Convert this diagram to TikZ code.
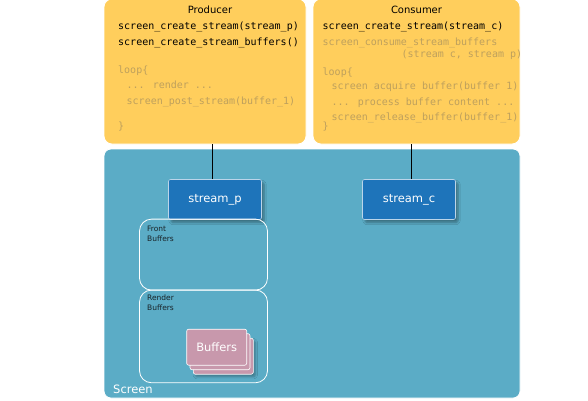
\documentclass[tikz,border=0pt]{standalone}
\usepackage{fontspec}
\setmainfont{DejaVu Sans}
\newfontfamily\codefont{DejaVu Sans Mono}
\usetikzlibrary{shadows.blur}
\definecolor{ylw}{RGB}{255,206,92}
\definecolor{teal}{RGB}{91,172,198}
\definecolor{sblue}{RGB}{30,116,186}
\definecolor{pinkb}{RGB}{200,152,172}
\definecolor{codegray}{RGB}{190,160,92}
\definecolor{lbl}{RGB}{25,35,40}
\begin{document}
\begin{tikzpicture}[x=1pt,y=1pt,
  panel/.style={draw=white, line width=0.8pt, fill=ylw, rounded corners=8pt, inner sep=0pt},
  screenbox/.style={draw=white, line width=0.8pt, fill=teal, rounded corners=7pt, inner sep=0pt},
  streambox/.style={draw=white!70!sblue, line width=0.6pt, fill=sblue, rounded corners=2pt, inner sep=0pt,
     minimum width=93pt, minimum height=40pt, text=white, font=\fontsize{11.5}{13}\selectfont,
     blur shadow={shadow xshift=2.5pt, shadow yshift=-3pt, shadow blur steps=6, shadow opacity=35}},
  bufgroup/.style={draw=white, line width=0.8pt, rounded corners=12pt, inner sep=0pt,
     minimum width=128pt},
  grplabel/.style={anchor=north west, align=left, text=lbl, inner sep=0pt,
     font=\fontsize{7.5}{9.5}\selectfont},
  bufbox/.style={draw=white, line width=0.6pt, fill=pinkb, rounded corners=2pt, inner sep=0pt,
     minimum width=60pt, minimum height=36pt, text=white, font=\fontsize{11.5}{13}\selectfont},
  title/.style={font=\fontsize{10}{12}\selectfont, text=black, inner sep=0pt},
  code/.style={anchor=west, inner sep=0pt, font=\codefont\fontsize{10}{12}\selectfont, text=black},
  dim/.style={code, text=codegray},
  conn/.style={draw=black, line width=0.8pt}
]
\useasboundingbox (0,0) rectangle (588,-400);

% Panels
\node[panel, minimum width=202pt, minimum height=145pt] (producer) at (205,-71.5) {};
\node[panel, minimum width=207pt, minimum height=145pt] (consumer) at (416.5,-71.5) {};
\node[screenbox, minimum width=416pt, minimum height=249pt] (screen) at (312,-273.5) {};

% Producer text
\node[title] (ptitle) at (210,-10) {Producer};
\node[code] (p1) at (118,-26.5) {screen\_create\_stream(stream\_p)};
\node[code] (p2) at (118,-43) {screen\_create\_stream\_buffers()};
\node[dim] (p3) at (118,-71) {loop\{};
\node[dim] (p4) at (126.5,-85) {... render ...};
\node[dim] (p5) at (126.5,-101.5) {screen\_post\_stream(buffer\_1)};
\node[dim] (p6) at (118,-126.5) {\}};

% Consumer text
\node[title] (ctitle) at (416.5,-10) {Consumer};
\node[code] (c1) at (322.5,-26.5) {screen\_create\_stream(stream\_c)};
\node[dim] (c2) at (322.5,-43) {screen\_consume\_stream\_buffers};
\node[dim] (c3) at (401.5,-54.5) {(stream c, stream p)};
\node[dim] (c4) at (322.5,-72.5) {loop\{};
\node[dim] (c5) at (331.5,-86.5) {screen acquire buffer(buffer 1)};
\node[dim] (c6) at (331.5,-102.5) {... process buffer content ...};
\node[dim] (c7) at (331.5,-117.5) {screen\_release\_buffer(buffer\_1)};
\node[dim] (c8) at (322.5,-127) {\}};

% Stream boxes
\node[streambox] (streamp) at (215,-199.5) {stream\_p};
\node[streambox] (streamc) at (409,-199.5) {stream\_c};

% Buffer groups
\node[bufgroup, minimum height=71pt] (front) at (203.5,-254.6) {};
\node[bufgroup, minimum height=92.7pt] (render) at (203.5,-336.4) {};
\node[grplabel] (frontlbl) at (147,-226) {Front\\Buffers};
\node[grplabel] (renderlbl) at (147,-295) {Render\\Buffers};

% Buffers stack
\node[bufbox, blur shadow={shadow xshift=2pt, shadow yshift=-2.5pt, shadow blur steps=5, shadow opacity=30}] (buf3) at (223.3,-356.2) {};
\node[bufbox] (buf2) at (220,-351.7) {};
\node[bufbox] (buf1) at (216.7,-347.2) {Buffers};

% Screen label
\node[anchor=west, inner sep=0pt, text=white, font=\fontsize{11.5}{13}\selectfont] (screenlbl) at (113,-389) {Screen};

% Connectors
\draw[conn] ([xshift=-2.3pt]streamp.north) -- ([xshift=-2.3pt]streamp.north |- producer.south);
\draw[conn] ([xshift=2.7pt]streamc.north) -- ([xshift=2.7pt]streamc.north |- consumer.south);
\end{tikzpicture}
\end{document}
